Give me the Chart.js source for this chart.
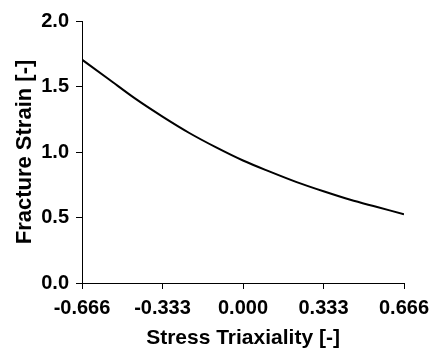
<!DOCTYPE html>
<html>
<head>
<meta charset="utf-8">
<script src="https://cdn.jsdelivr.net/npm/chart.js@4.4.1/dist/chart.umd.min.js"></script>
<style>
  html, body { margin: 0; padding: 0; background: #fff; }
  #wrap { width: 437px; height: 348px; }
</style>
</head>
<body>
<div id="wrap"><canvas id="strainChart"></canvas></div>
<script>
// Values
const triaxiality = [-0.666, -0.555, -0.444, -0.333, -0.222, -0.111, 0.0, 0.111, 0.222, 0.333, 0.444, 0.555, 0.666];
const fractureStrain = [1.705, 1.555, 1.405, 1.27, 1.145, 1.035, 0.935, 0.85, 0.77, 0.70, 0.635, 0.58, 0.525];
const xTicks = [-0.666, -0.333, 0.0, 0.333, 0.666];
const yTicks = [0.0, 0.5, 1.0, 1.5, 2.0];

const ctx = document.getElementById("strainChart").getContext("2d");
const fontFamily = "'Liberation Sans', Arial, sans-serif";

const points = triaxiality.map((x, i) => ({ x: x, y: fractureStrain[i] }));

new Chart(ctx, {
  type: "line",
  data: {
    datasets: [
      {
        data: points,
        borderColor: "#000",
        borderWidth: 2,
        pointRadius: 0,
        fill: false,
        cubicInterpolationMode: "monotone",
      },
    ],
  },
  options: {
    responsive: true,
    maintainAspectRatio: false,
    animation: false,
    layout: { padding: { top: 21, right: 33, left: 0, bottom: 0 } },
    plugins: { legend: { display: false }, tooltip: { enabled: false } },
    scales: {
      x: {
        type: "linear",
        min: -0.666,
        max: 0.666,
        afterBuildTicks: (scale) => {
          scale.ticks = xTicks.map((v) => ({ value: v }));
        },
        afterFit: (scale) => {
          scale.height = 65;
        },
        grid: { drawOnChartArea: false, drawTicks: true, tickLength: 6, color: "#000" },
        border: { display: true, color: "#000", width: 1 },
        ticks: {
          color: "#000",
          padding: 7,
          maxRotation: 0,
          autoSkip: false,
          font: { family: fontFamily, size: 20, weight: "bold" },
          callback: (v) => Number(v).toFixed(3),
        },
        title: {
          display: true,
          text: "Stress Triaxiality [-]",
          color: "#000",
          padding: { top: 0, bottom: -1 },
          font: { family: fontFamily, size: 21, weight: "bold", lineHeight: 1 },
        },
      },
      y: {
        min: 0,
        max: 2,
        afterBuildTicks: (scale) => {
          scale.ticks = yTicks.map((v) => ({ value: v }));
        },
        afterFit: (scale) => {
          scale.width = 82;
        },
        grid: { drawOnChartArea: false, drawTicks: true, tickLength: 6, color: "#000" },
        border: { display: true, color: "#000", width: 1 },
        ticks: {
          color: "#000",
          padding: 7,
          font: { family: fontFamily, size: 20, weight: "bold" },
          callback: (v) => Number(v).toFixed(1),
        },
        title: {
          display: true,
          text: "Fracture Strain [-]",
          color: "#000",
          padding: { top: 14, bottom: 0 },
          font: { family: fontFamily, size: 22, weight: "bold", lineHeight: 1 },
        },
      },
    },
  },
});
</script>
</body>
</html>
